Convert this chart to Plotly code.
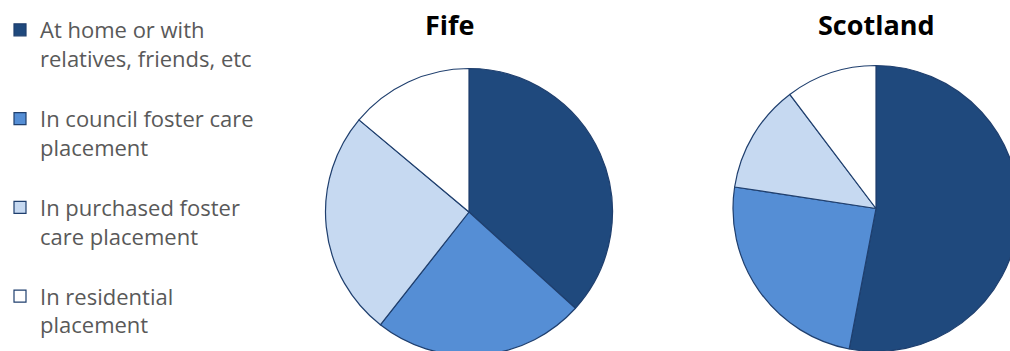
import plotly.graph_objects as go

categories = [
    "At home or with<br>relatives, friends, etc",
    "In council foster care<br>placement",
    "In purchased foster<br>care placement",
    "In residential<br>placement",
]
fife_values = [36.7, 23.9, 25.5, 13.9]
scotland_values = [53.0, 24.4, 12.3, 10.3]
titles = ["Fife", "Scotland"]
colors = ["#1F497D", "#558ED5", "#C6D9F1", "#FFFFFF"]

W, H = 1030, 420  # page is cropped to 1010x351 so pies are clipped like the reference


def dom(cx, cy, r):
    return dict(x=[(cx - r) / W, (cx + r) / W], y=[1 - (cy + r) / H, 1 - (cy - r) / H])


labels = [c + "<br> " for c in categories]

fig = go.Figure()
fig.add_trace(go.Pie(
    labels=labels, values=fife_values, sort=False, direction="clockwise", rotation=0,
    marker=dict(colors=colors, line=dict(color="#1F3F6E", width=1.2)),
    textinfo="none", hoverinfo="label+percent", domain=dom(469, 212, 143.5),
))
fig.add_trace(go.Pie(
    labels=labels, values=scotland_values, sort=False, direction="clockwise", rotation=0,
    marker=dict(colors=colors, line=dict(color="#1F3F6E", width=1.2)),
    textinfo="none", hoverinfo="label+percent", domain=dom(876, 208.5, 143),
))

for t, cx in zip(titles, [449, 876]):
    fig.add_annotation(text="<b>%s</b>" % t, x=cx / W, y=1 - 24 / H, xref="paper", yref="paper",
                       xanchor="center", yanchor="middle", showarrow=False,
                       font=dict(family="Open Sans", size=27, color="#000000"))

fig.update_layout(
    width=W, height=H, margin=dict(l=0, r=0, t=0, b=0),
    paper_bgcolor="white", plot_bgcolor="white",
    showlegend=True,
    legend=dict(x=0, y=1 - 9 / H, xanchor="left", yanchor="top", valign="top",
                font=dict(family="Open Sans", size=22, color="#595959"),
                bgcolor="rgba(0,0,0,0)", traceorder="normal"),
)

fig.write_html("out.html", post_script="document.documentElement.style.overflow='hidden';document.body.style.overflow='hidden';document.body.style.margin='0';")
